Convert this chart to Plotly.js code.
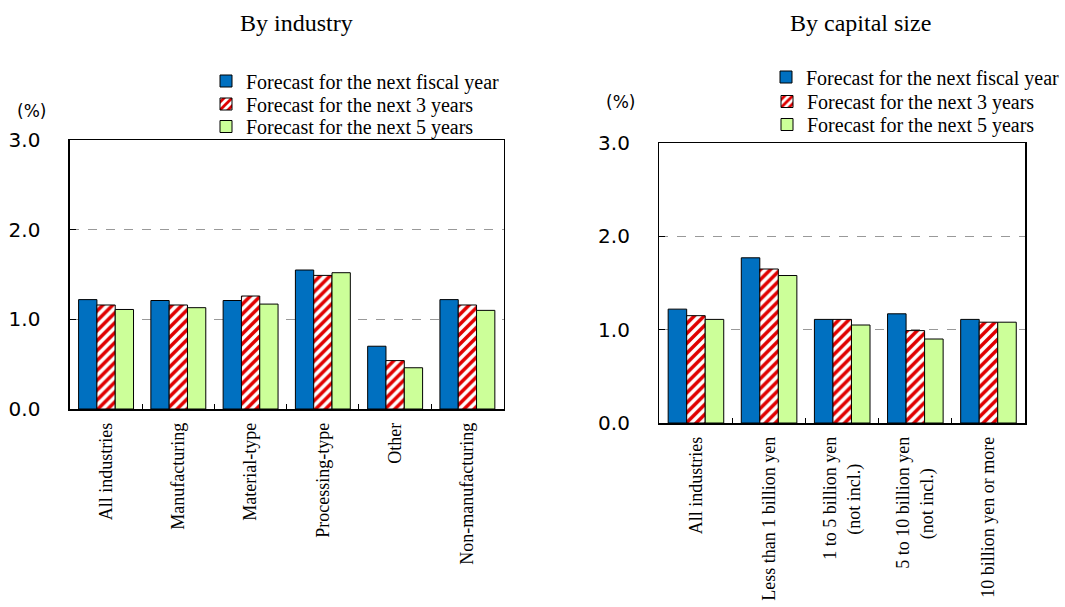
<!DOCTYPE html>
<html>
<head>
<meta charset="utf-8">
<script src="https://cdn.plot.ly/plotly-3.0.1.min.js"></script>
<style>
  html, body { margin: 0; padding: 0; background: #fff; }
  #chart { width: 1065px; height: 607px; }
</style>
</head>
<body>
<div id="chart"></div>
<script>
// series names
let seriesNames = ['Forecast for the next fiscal year', 'Forecast for the next 3 years', 'Forecast for the next 5 years']

// by industry
let industryCats = ['All industries', 'Manufacturing', 'Material-type', 'Processing-type', 'Other', 'Non-manufacturing']
let industryNextFY = [1.22, 1.21, 1.21, 1.55, 0.70, 1.22]
let industry3Y = [1.16, 1.16, 1.26, 1.49, 0.54, 1.16]
let industry5Y = [1.11, 1.13, 1.17, 1.52, 0.46, 1.10]

// by capital size
let capitalCats = ['All industries', 'Less than 1 billion yen', '1 to 5 billion yen', '5 to 10 billion yen', '10 billion yen or more']
// tick labels (nbsp padding keeps the second line centred under the first)
let nb = n => '\u00a0'.repeat(n)
let capitalLabels = ['All industries', 'Less than 1 billion yen',
  '1 to 5 billion yen<br>(not incl.)' + nb(6),
  '5 to 10 billion yen<br>(not incl.)' + nb(7),
  '10 billion yen or more']
let capitalNextFY = [1.22, 1.77, 1.11, 1.17, 1.11]
let capital3Y = [1.15, 1.65, 1.11, 0.99, 1.08]
let capital5Y = [1.11, 1.58, 1.05, 0.90, 1.08]

let yTicks = [0, 1, 2, 3]

const W = 1065, H = 607
function px(x) { return x / W }
function py(y) { return 1 - y / H }

let blue = '#0070C0'
let green = '#CCFF99'
let red = '#E00000'
let outline = {color: '#000', width: 1}

// one legend per trace so the rows can sit as tight as in the original
function makeTraces(cats, v1, v2, v3, xa, ya, legs) {
  return [
    {x: cats, y: v1, name: seriesNames[0], type: 'bar', xaxis: xa, yaxis: ya, legend: legs[0],
     marker: {color: blue, line: outline}},
    {x: cats, y: v2, name: seriesNames[1], type: 'bar', xaxis: xa, yaxis: ya, legend: legs[1],
     marker: {color: '#fff', line: outline,
       pattern: {shape: '/', fgcolor: red, bgcolor: '#fff', size: 7, solidity: 0.5}}},
    {x: cats, y: v3, name: seriesNames[2], type: 'bar', xaxis: xa, yaxis: ya, legend: legs[2],
     marker: {color: green, line: outline}}
  ]
}

let data = makeTraces(industryCats, industryNextFY, industry3Y, industry5Y, 'x', 'y', ['legend', 'legend2', 'legend3'])
  .concat(makeTraces(capitalCats, capitalNextFY, capital3Y, capital5Y, 'x2', 'y2', ['legend4', 'legend5', 'legend6']))

let serif = 'Liberation Serif, Times New Roman, serif'
let sans = 'DejaVu Sans, Verdana, sans-serif'

function yAxis(dom, anchor) {
  return {
    domain: dom, anchor: anchor, range: [0, 3], tickvals: yTicks, tickformat: '.1f',
    showgrid: true, gridcolor: '#999', griddash: 'dash', gridwidth: 1,
    showline: true, linecolor: '#000', linewidth: 1.5, mirror: true,
    ticks: 'inside', ticklen: 6, tickcolor: '#000',
    ticklabelstandoff: 24,
    tickfont: {family: sans, size: 20, color: '#000'},
    zeroline: false, fixedrange: true
  }
}
function xAxis(dom, anchor, cats, labels) {
  return {
    domain: dom, anchor: anchor, type: 'category',
    tickvals: cats, ticktext: labels,
    showline: true, linecolor: '#000', linewidth: 1.5, mirror: true,
    ticks: 'inside', ticklen: 5, tickcolor: '#000', tickson: 'boundaries',
    tickangle: -90, ticklabelstandoff: 5,
    tickfont: {family: serif, size: 18, color: '#000'},
    showgrid: false, fixedrange: true
  }
}

function legendAt(x, y) {
  return {
    font: {family: serif, size: 20, color: '#000'},
    bgcolor: 'rgba(0,0,0,0)', borderwidth: 0,
    xanchor: 'left', yanchor: 'middle', x: px(x), y: py(y)
  }
}

let layout = {
  width: W, height: H,
  margin: {l: 0, r: 0, t: 0, b: 0},
  paper_bgcolor: '#fff', plot_bgcolor: '#fff',
  barmode: 'group', bargap: 0.24, bargroupgap: 0,
  showlegend: true,
  xaxis: xAxis([px(70), px(504)], 'y', industryCats, industryCats),
  yaxis: yAxis([py(409), py(140)], 'x'),
  xaxis2: xAxis([px(660), px(1026)], 'y2', capitalCats, capitalLabels),
  yaxis2: yAxis([py(423), py(143)], 'x2'),
  legend: legendAt(206, 81),
  legend2: legendAt(206, 104),
  legend3: legendAt(206, 126.5),
  legend4: legendAt(767, 77),
  legend5: legendAt(767, 101.5),
  legend6: legendAt(767, 124.5),
  annotations: [
    {text: 'By industry', x: px(297), y: py(23), xref: 'paper', yref: 'paper', showarrow: false,
     xanchor: 'center', yanchor: 'middle', font: {family: serif, size: 24, color: '#000'}},
    {text: 'By capital size', x: px(861), y: py(23), xref: 'paper', yref: 'paper', showarrow: false,
     xanchor: 'center', yanchor: 'middle', font: {family: serif, size: 24, color: '#000'}},
    {text: '(%)', x: px(32), y: py(110.5), xref: 'paper', yref: 'paper', showarrow: false,
     xanchor: 'center', yanchor: 'middle', font: {family: sans, size: 17, color: '#000'}},
    {text: '(%)', x: px(621), y: py(102), xref: 'paper', yref: 'paper', showarrow: false,
     xanchor: 'center', yanchor: 'middle', font: {family: sans, size: 17, color: '#000'}}
  ]
}

Plotly.newPlot('chart', data, layout, {displayModeBar: false, staticPlot: true})
</script>
</body>
</html>
